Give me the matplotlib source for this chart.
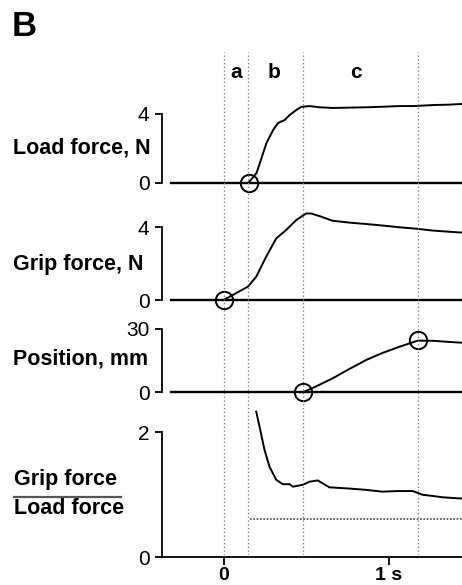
import matplotlib
matplotlib.use("Agg")
import matplotlib.pyplot as plt
from matplotlib.lines import Line2D

plt.rcParams['font.family'] = ['Liberation Sans', 'DejaVu Sans']

# phases of the lift (s)
phase_t = [0.0, 0.15, 0.48, 1.175]
phase_names = ['a', 'b', 'c']
phase_name_t = [0.075, 0.305, 0.80]

t_start, t_end = -0.32, 1.44

# load force, N
load_t = [0.15, 0.20, 0.26, 0.30, 0.33, 0.37, 0.40, 0.44, 0.47, 0.52, 0.58,
          0.66, 0.76, 0.865, 0.96, 1.065, 1.15, 1.27, 1.36, 1.44]
load_v = [0.0, 0.58, 2.32, 3.07, 3.48, 3.65, 3.94, 4.23, 4.41, 4.46, 4.39,
          4.35, 4.37, 4.39, 4.42, 4.46, 4.46, 4.52, 4.54, 4.58]

# grip force, N
grip_t = [0.0, 0.055, 0.147, 0.198, 0.258, 0.319, 0.379, 0.44, 0.50, 0.53,
          0.58, 0.66, 0.76, 0.863, 0.96, 1.065, 1.17, 1.266, 1.36, 1.44]
grip_v = [0.0, 0.27, 0.73, 1.28, 2.38, 3.39, 3.85, 4.40, 4.76, 4.76,
          4.62, 4.36, 4.26, 4.18, 4.10, 4.00, 3.92, 3.82, 3.76, 3.71]

# position, mm
pos_t = [0.48, 0.56, 0.66, 0.76, 0.863, 0.96, 1.065, 1.176, 1.27, 1.36, 1.44]
pos_v = [0.0, 2.8, 6.6, 11.0, 15.3, 18.6, 21.6, 24.5, 24.4, 23.9, 23.5]

# grip force / load force
ratio_t = [0.198, 0.218, 0.248, 0.278, 0.319, 0.359, 0.40, 0.42, 0.48, 0.52,
           0.57, 0.64, 0.76, 0.86, 0.96, 1.05, 1.145, 1.205, 1.27, 1.327, 1.44]
ratio_v = [2.33, 2.09, 1.72, 1.45, 1.24, 1.17, 1.17, 1.13, 1.16, 1.21,
           1.23, 1.12, 1.10, 1.08, 1.05, 1.06, 1.06, 1.00, 0.98, 0.96, 0.94]
slip_ratio = 0.62
slip_t = [0.16, 1.44]

# circles marking events
load_onset = (0.153, 0.0)
grip_onset = (0.0, 0.0)
lift_onset = (0.48, 0.0)
pos_peak = (1.176, 24.8)

W, H = 462, 585
fig = plt.figure(figsize=(W / 100, H / 100), dpi=100)

L, R = 162, 462
px_t0, px_per_s = 223.5, 165.3
xlim = ((L - px_t0) / px_per_s, (R - px_t0) / px_per_s)

LW = 1.4
AXW = 1.3


def panel(top, bot, v_lo, px_lo, v_hi, px_hi):
    ax = fig.add_axes([L / W, 1 - bot / H, (R - L) / W, (bot - top) / H])
    ax.patch.set_visible(False)
    k = (px_lo - px_hi) / (v_hi - v_lo)
    ax.set_ylim(v_lo - (bot - px_lo) / k, v_hi + (px_hi - top) / k)
    ax.set_xlim(*xlim)
    for s in ['top', 'right']:
        ax.spines[s].set_visible(False)
    ax.spines['left'].set_bounds(v_lo, v_hi)
    ax.spines['left'].set_linewidth(AXW)
    ax.set_yticks([v_lo, v_hi])
    ax.set_yticklabels([str(v_lo), str(v_hi)])
    ax.tick_params(axis='y', direction='out', length=5, width=AXW, pad=4,
                   labelsize=15)
    return ax


circ = dict(marker='o', ms=12.5, mfc='none', mec='black', mew=1.4,
            ls='none', zorder=5, clip_on=False)

ax1 = panel(90, 195, 0, 183, 4, 114)
ax2 = panel(200, 310, 0, 300, 4, 227.3)
ax3 = panel(318, 402, 0, 392.3, 30, 329)
ax4 = panel(405, 557.3, 0, 557.3, 2, 432.3)

for ax in (ax1, ax2, ax3):
    ax.spines['bottom'].set_visible(False)
    ax.set_xticks([])
    ax.plot([t_start, t_end], [0, 0], color='black', lw=1.7)

ax1.plot(load_t, load_v, color='black', lw=LW)
ax1.plot(*load_onset, **circ)
ax2.plot(grip_t, grip_v, color='black', lw=LW)
ax2.plot(*grip_onset, **circ)
ax3.plot(pos_t, pos_v, color='black', lw=LW)
ax3.plot(*lift_onset, **circ)
ax3.plot(*pos_peak, **circ)

ax4.plot(ratio_t, ratio_v, color='black', lw=LW)
ax4.plot(slip_t, [slip_ratio, slip_ratio], color='#444444', lw=1.2,
         ls=(0, (1, 1)))
ax4.spines['bottom'].set_linewidth(AXW)
ax4.set_xticks([0, 1])
ax4.set_xticklabels(['0', '1 s'], fontweight='bold')
ax4.tick_params(axis='x', direction='out', length=6, width=AXW, pad=1,
                labelsize=14)

# dotted phase boundaries over all panels
ov = fig.add_axes([L / W, 1 - 555 / H, (R - L) / W, (555 - 52) / H])
ov.patch.set_visible(False)
ov.set_xlim(*xlim)
ov.set_ylim(555, 52)
ov.axis('off')
for t in phase_t:
    ov.axvline(t, color='#777777', lw=0.9, ls=(0, (1, 2)))
for name, t in zip(phase_names, phase_name_t):
    ov.text(t, 72, name, ha='center', va='center', fontsize=15,
            fontweight='bold')

# panel titles
lbl = dict(ha='left', va='center', fontsize=15.5, fontweight='bold')
fig.text(12 / W, 1 - 26 / H, 'B', ha='left', va='center', fontsize=25,
         fontweight='bold')
fig.text(13 / W, 1 - 148 / H, 'Load force, N', **lbl)
fig.text(13 / W, 1 - 265 / H, 'Grip force, N', **lbl)
fig.text(13 / W, 1 - 359 / H, 'Position, mm', **lbl)
fig.text(14 / W, 1 - 480 / H, 'Grip force', **lbl)
fig.text(14 / W, 1 - 509 / H, 'Load force', **lbl)
fig.add_artist(Line2D([14 / W, 121 / W], [1 - 497 / H, 1 - 497 / H],
                      color='#555555', lw=1.6, transform=fig.transFigure))

fig.savefig('out.png', dpi=100)
